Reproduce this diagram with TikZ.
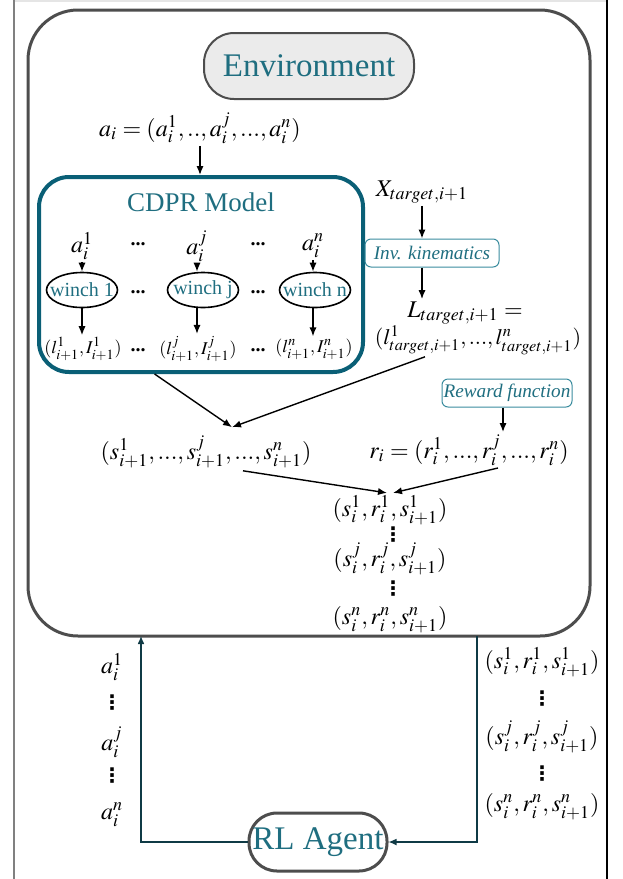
\documentclass[tikz,border=0pt]{standalone}
\usepackage{mathptmx}
\usepackage[no-math]{fontspec}
\setmainfont{Liberation Serif}
\newfontfamily\symfont{DejaVu Sans}
\definecolor{envteal}{HTML}{1F6E80}
\definecolor{cdprteal}{HTML}{0A5F76}
\definecolor{boxteal}{HTML}{3A8C9E}
\definecolor{framegray}{HTML}{4D4D4D}
\definecolor{envfill}{HTML}{EBEBEB}
\definecolor{loopnavy}{HTML}{0F3A45}
\usepackage{tikz}
\usetikzlibrary{positioning,arrows.meta,shapes.geometric,calc}

\begin{document}
\begin{tikzpicture}[
  x=0.5pt, y=-0.5pt,
  font=\fontsize{12}{14}\selectfont,
  txt/.style={inner sep=1pt},
  vd/.style={inner sep=0pt, font=\symfont\bfseries\fontsize{10}{11}\selectfont},
  pill/.style={draw=framegray, rounded corners=15pt, text=envteal, font=\fontsize{16.5}{19}\selectfont, inner sep=0pt},
  winch/.style={draw, ellipse, line width=0.8pt, text=envteal, font=\fontsize{10}{12}\selectfont, inner xsep=-3.5pt, inner ysep=1.5pt, minimum width=35.5pt, minimum height=17.5pt},
  fnbox/.style={draw=boxteal, line width=0.5pt, rounded corners=3pt, text=envteal, font=\fontsize{9.6}{11}\selectfont\itshape, inner sep=0pt, minimum height=14pt},
  dots/.style={inner sep=0pt, font=\fontsize{10}{12}\selectfont\bfseries},
  small/.style={inner sep=1pt, font=\fontsize{9}{11}\selectfont},
  arr/.style={-{Latex[length=4.5pt,width=3.6pt]}, line width=0.7pt},
  back/.style={-{Latex[length=4pt,width=3.4pt]}, line width=0.6pt, color=loopnavy},
]
  \useasboundingbox (0,0) rectangle (622,879);
  % page rules
  \draw[black!10, line width=1pt] (14,1) -- (607,1);
  \draw[black!50, line width=1pt] (14,0) -- (14,879);
  \draw[black, line width=0.6pt] (607,0) -- (607,879);

  % environment frame
  \draw[framegray, line width=1.5pt, rounded corners=25pt] (28,10) rectangle (590,636);
  \coordinate (ain) at (141,636);
  \coordinate (sout) at (477,636);

  \node[pill, fill=envfill, line width=1pt, minimum width=105pt, minimum height=33pt] (env) at (309,66) {Environment};
  \node[txt] (avec) at (200,128) {$a_i = (a_i^1, .., a_i^j, ..., a_i^n)$};

  % CDPR model
  \node[draw=cdprteal, line width=2pt, rounded corners=15pt, minimum width=162pt, minimum height=97.5pt] (cdpr) at (201,274.5) {};
  \node[txt, text=envteal, font=\fontsize{13.5}{16}\selectfont] (cdprtitle) at (201,202) {CDPR Model};
  \node[txt] (a1) at (82,246) {$a_i^1$};
  \node[txt] (aj) at (197,246) {$a_i^j$};
  \node[txt] (an) at (313,246) {$a_i^n$};
  \node[winch] (w1) at (82,290) {winch 1};
  \node[winch] (wj) at (203,290) {winch j};
  \node[winch] (wn) at (315,290) {winch n};
  \node[small] (l1) at (83,349) {$(l^1_{i+1}, I^1_{i+1})$};
  \node[small] (lj) at (198,349) {$(l^j_{i+1}, I^j_{i+1})$};
  \node[small] (ln) at (314,349) {$(l^n_{i+1}, I^n_{i+1})$};
  \foreach \y in {244,292,350} {
    \node[dots] at (138,\y) {...};
    \node[dots] at (258,\y) {...};
  }

  % target side
  \node[txt] (xt) at (422,192) {$X_{target,i+1}$};
  \node[fnbox, minimum width=67pt] (inv) at (432,253) {Inv. kinematics};
  \node[txt] (ltop) at (465,313) {$L_{target,i+1} =$};
  \node[txt, font=\fontsize{11}{13}\selectfont] (lbot) at (478,340) {$(l^1_{target,i+1}, ..., l^n_{target,i+1})$};
  \node[fnbox, minimum width=65pt] (rew) at (507,393) {Reward function};

  % states and rewards
  \node[txt] (stup) at (206,452) {$(s^1_{i+1}, ..., s^j_{i+1}, ..., s^n_{i+1})$};
  \node[txt] (rvec) at (469,450) {$r_i = (r^1_i, ..., r^j_i, ..., r^n_i)$};
  \node[txt] (t1) at (390,510) {$(s^1_i, r^1_i, s^1_{i+1})$};
  \node[vd] at (393,535) {⋮};
  \node[txt] (tj) at (390,559) {$(s^j_i, r^j_i, s^j_{i+1})$};
  \node[vd] at (393,589) {⋮};
  \node[txt] (tn) at (390,620) {$(s^n_i, r^n_i, s^n_{i+1})$};

  % agent loop
  \node[pill, fill=white, line width=1.5pt, rounded corners=14pt, minimum width=69pt, minimum height=29pt] (agent) at (318,842) {RL Agent};
  \node[txt] (ba1) at (112,667) {$a_i^1$};
  \node[vd] at (112,703) {⋮};
  \node[txt] (baj) at (112,742) {$a_i^j$};
  \node[vd] at (112,776) {⋮};
  \node[txt] (ban) at (112,815) {$a_i^n$};
  \node[txt] (bs1) at (542,662) {$(s^1_i, r^1_i, s^1_{i+1})$};
  \node[vd] at (542,699) {⋮};
  \node[txt] (bsj) at (542,737) {$(s^j_i, r^j_i, s^j_{i+1})$};
  \node[vd] at (542,774) {⋮};
  \node[txt] (bsn) at (542,807) {$(s^n_i, r^n_i, s^n_{i+1})$};

  \draw[arr] (avec.south) -- (avec.south |- cdpr.north);
  \draw[arr] (a1.south) -- (a1.south |- w1.north);
  \draw[arr] (aj.south) -- (aj.south |- wj.north);
  \draw[arr] (an.south) -- (an.south |- wn.north);
  \draw[arr] (w1.south) -- (w1.south |- l1.north);
  \draw[arr] (aj.south |- wj.south) -- (aj.south |- lj.north);
  \draw[arr] (an.south |- wn.south) -- (an.south |- ln.north);
  \draw[arr] (xt.south) -- (xt.south |- inv.north);
  \draw[arr] (xt.south |- inv.south) -- (xt.south |- ltop.north);
  \draw[arr] (rew.south -| 503,0) -- (rvec.north -| 503,0);
  \draw[arr] (cdpr.-115) -- ($(stup.north)+(26,-6)$);
  \draw[arr] ($(lbot.south)+(-53,0)$) -- ($(stup.north)+(26,-6)$);
  \draw[arr] ($(stup.south)+(37,0)$) -- ($(t1.north)+(-3,0)$);
  \draw[arr] ($(rvec.south)+(29,0)$) -- ($(t1.north)+(3,0)$);
  \draw[back] (agent.west) -| (ain);
  \draw[back] (sout) |- (agent.east);
\end{tikzpicture}
\end{document}
